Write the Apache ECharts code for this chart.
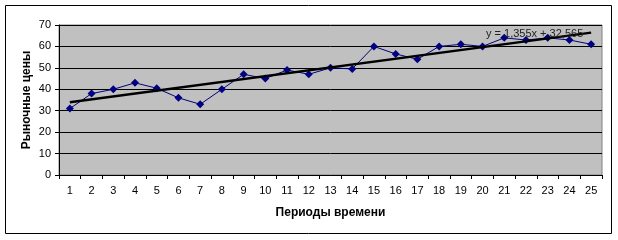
<!DOCTYPE html>
<html><head><meta charset="utf-8">
<script src="https://cdn.jsdelivr.net/npm/echarts@6/dist/echarts.min.js"></script>
<style>html,body{margin:0;padding:0;background:#fff}#c{width:618px;height:240px}</style>
</head><body><div id="c"></div>
<script>
var periods = ['1','2','3','4','5','6','7','8','9','10','11','12','13','14','15','16','17','18','19','20','21','22','23','24','25'];
var prices = [31,38,40,43,40.5,36,33,40,47,45,49,47,50,49.5,60,56.5,54,60,61,60,64,63,64,63,61];
var trendPoints = [[0,33.92],[24,66.44]];
var trendLabel = 'y = 1,355x + 32,565';
var yTitle = 'Рыночные цены';
var xTitle = 'Периоды времени';

var chart = echarts.init(document.getElementById('c'), null, {renderer:'canvas'});
var font = 'Arial, "Liberation Sans", sans-serif';
chart.setOption({
  animation:false,
  backgroundColor:'#fff',
  textStyle:{fontFamily:font},
  graphic:[
    {type:'rect', shape:{x:5.5,y:5.5,width:606,height:228}, style:{fill:null, stroke:'#000', lineWidth:1}, z:-1},
    {type:'text', left:486, top:28, style:{text:trendLabel, font:'11px '+font, fill:'#222'}, z:100}
  ],
  grid:{left:59, top:25, right:16, bottom:65, show:true, backgroundColor:'#C0C0C0', borderColor:'#808080', borderWidth:1},
  xAxis:{type:'category', data:periods, boundaryGap:true,
    axisLine:{lineStyle:{color:'#000',width:1}},
    axisTick:{show:true, length:4, lineStyle:{color:'#000'}},
    axisLabel:{color:'#000', fontSize:11, fontFamily:font, margin:10},
    name:xTitle, nameLocation:'middle', nameGap:32,
    nameTextStyle:{color:'#000', fontWeight:'bold', fontSize:12, fontFamily:font}},
  yAxis:{type:'value', min:0, max:70, interval:10,
    axisLine:{show:true, lineStyle:{color:'#000',width:1}},
    axisTick:{show:true, length:4, lineStyle:{color:'#000'}},
    axisLabel:{color:'#000', fontSize:11, fontFamily:font, margin:8},
    splitLine:{show:true, lineStyle:{color:'#000', width:1}},
    name:yTitle, nameLocation:'middle', nameGap:26, nameRotate:90, nameMoveOverlap:false,
    nameTextStyle:{color:'#000', fontWeight:'bold', fontSize:12, fontFamily:font}},
  series:[
    {type:'line', data:prices, symbol:'diamond', symbolSize:8,
      lineStyle:{color:'#000080', width:1}, itemStyle:{color:'#000080'}, z:3},
    {type:'line', data:trendPoints, symbol:'none',
      lineStyle:{color:'#000', width:2.5}, z:4}
  ]
});
</script></body></html>
